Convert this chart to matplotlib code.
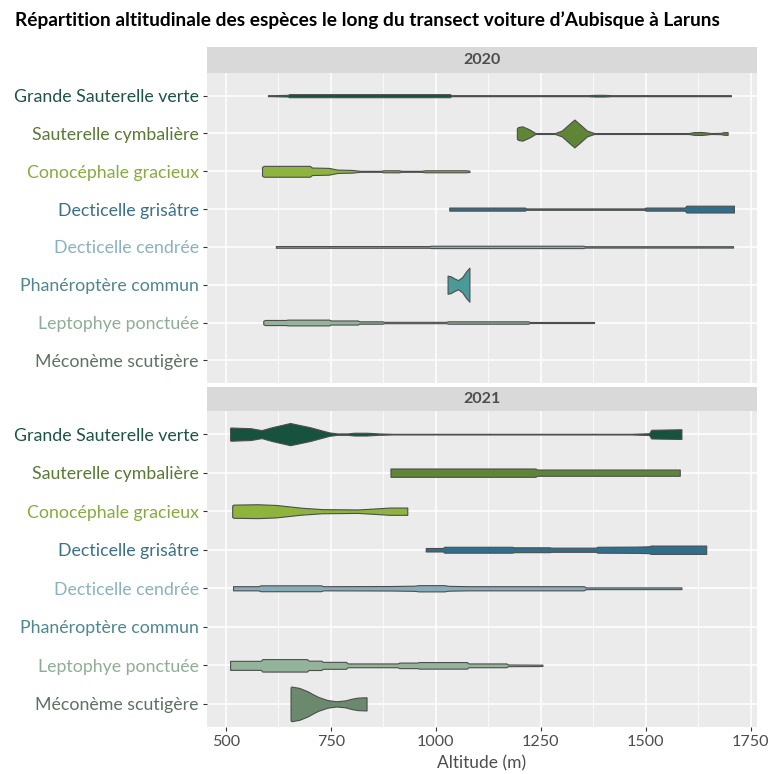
import numpy as np
import matplotlib
matplotlib.use("Agg")
import matplotlib.pyplot as plt

plt.rcParams['font.family'] = ['Lato', 'DejaVu Sans']

# species (top to bottom) and their colours
species = ["Grande Sauterelle verte", "Sauterelle cymbalière", "Conocéphale gracieux",
           "Decticelle grisâtre", "Decticelle cendrée", "Phanéroptère commun",
           "Leptophye ponctuée", "Méconème scutigère"]
label_colors = ["#1d5445", "#587a35", "#86ab3e", "#3a7088",
                "#8ab2be", "#4e8790", "#8fae96", "#5d7263"]
fill_colors = ["#17523f", "#5f8636", "#8db43d", "#2f6f8b",
               "#87adbb", "#4a9a9a", "#93b39a", "#6b8a6d"]

title = "Répartition altitudinale des espèces le long du transect voiture d\u2019Aubisque à Laruns"
years = ["2020", "2021"]
x_ticks = [500, 750, 1000, 1250, 1500, 1750]

# violin profiles: altitude (m) and relative density (1 = widest violin of the panel)
# --- 2020 ---
grande_2020_alt = [600, 612, 648, 650, 1034, 1036, 1360, 1380, 1400, 1420, 1703]
grande_2020_w = [0.03, 0.03, 0.05, 0.09, 0.09, 0.03, 0.03, 0.05, 0.05, 0.03, 0.03]
cymb_2020_alt = [1193, 1196, 1206, 1222, 1237, 1284, 1300, 1315, 1330, 1345, 1360,
                 1377, 1602, 1615, 1631, 1645, 1655, 1678, 1687, 1695]
cymb_2020_w = [0.30, 0.38, 0.42, 0.25, 0.03, 0.03, 0.17, 0.5, 0.82, 0.5, 0.17,
               0.03, 0.03, 0.08, 0.09, 0.06, 0.03, 0.04, 0.08, 0.08]
cono_2020_alt = [586, 590, 700, 705, 745, 765, 800, 820, 870, 875, 912, 918,
                 965, 975, 1070, 1080]
cono_2020_w = [0.25, 0.32, 0.32, 0.22, 0.2, 0.1, 0.08, 0.03, 0.03, 0.06, 0.06, 0.03,
               0.03, 0.06, 0.06, 0.04]
grisatre_2020_alt = [1032, 1212, 1215, 1496, 1500, 1593, 1597, 1710]
grisatre_2020_w = [0.09, 0.09, 0.04, 0.04, 0.09, 0.09, 0.2, 0.2]
cendree_2020_alt = [619, 983, 990, 1350, 1356, 1708]
cendree_2020_w = [0.05, 0.05, 0.07, 0.07, 0.04, 0.04]
phane_2020_alt = [1028, 1035, 1045, 1053, 1063, 1072, 1080]
phane_2020_w = [0.53, 0.5, 0.36, 0.27, 0.45, 0.78, 1.0]
lepto_2020_alt = [589, 593, 644, 646, 746, 750, 814, 818, 873, 877, 1025, 1029,
                  1220, 1224, 1377]
lepto_2020_w = [0.1, 0.15, 0.15, 0.17, 0.17, 0.12, 0.12, 0.07, 0.07, 0.04, 0.04, 0.07,
                0.07, 0.03, 0.03]

# --- 2021 ---
grande_2021_alt = [510, 512, 559, 585, 610, 653, 700, 746, 765, 790, 805, 835, 864,
                   898, 1466, 1508, 1513, 1585]
grande_2021_w = [0.36, 0.38, 0.34, 0.23, 0.4, 0.64, 0.4, 0.1, 0.04, 0.04, 0.08, 0.08,
                 0.04, 0.02, 0.02, 0.05, 0.25, 0.28]
cymb_2021_alt = [892, 1237, 1241, 1581]
cymb_2021_w = [0.24, 0.24, 0.18, 0.18]
cono_2021_alt = [515, 518, 576, 619, 680, 729, 814, 850, 890, 932]
cono_2021_w = [0.33, 0.38, 0.40, 0.36, 0.2, 0.12, 0.1, 0.15, 0.21, 0.21]
grisatre_2021_alt = [976, 1017, 1020, 1182, 1186, 1271, 1275, 1381, 1385, 1479,
                     1508, 1512, 1644]
grisatre_2021_w = [0.1, 0.1, 0.17, 0.17, 0.14, 0.14, 0.12, 0.12, 0.17, 0.18,
                   0.2, 0.24, 0.24]
cendree_2021_alt = [517, 577, 583, 726, 732, 894, 949, 960, 1020, 1030, 1080,
                    1352, 1358, 1585]
cendree_2021_w = [0.12, 0.12, 0.17, 0.17, 0.12, 0.13, 0.15, 0.18, 0.18, 0.14, 0.12,
                  0.12, 0.05, 0.05]
lepto_2021_alt = [510, 583, 587, 693, 697, 727, 731, 786, 790, 909, 913, 956, 960,
                  1074, 1078, 1168, 1172, 1254]
lepto_2021_w = [0.26, 0.26, 0.36, 0.36, 0.27, 0.27, 0.2, 0.2, 0.11, 0.11, 0.16, 0.16,
                0.19, 0.19, 0.11, 0.11, 0.05, 0.04]
meco_2021_alt = [654, 656, 675, 695, 710, 720, 742, 763, 784, 800, 814, 835]
meco_2021_w = [0.95, 1.0, 0.92, 0.72, 0.52, 0.4, 0.22, 0.15, 0.2, 0.3, 0.36, 0.38]

profiles = {
    "2020": [(grande_2020_alt, grande_2020_w), (cymb_2020_alt, cymb_2020_w),
             (cono_2020_alt, cono_2020_w), (grisatre_2020_alt, grisatre_2020_w),
             (cendree_2020_alt, cendree_2020_w), (phane_2020_alt, phane_2020_w),
             (lepto_2020_alt, lepto_2020_w), None],
    "2021": [(grande_2021_alt, grande_2021_w), (cymb_2021_alt, cymb_2021_w),
             (cono_2021_alt, cono_2021_w), (grisatre_2021_alt, grisatre_2021_w),
             (cendree_2021_alt, cendree_2021_w), None,
             (lepto_2021_alt, lepto_2021_w), (meco_2021_alt, meco_2021_w)],
}

W, H = 771, 774
fig = plt.figure(figsize=(W / 100, H / 100), dpi=100)

# panel and strip boxes in pixels (top, bottom)
panel_px = [(73, 383), (411, 727)]
strip_px = [(47, 73), (387, 411)]
left_px, right_px = 207, 757

half = 0.45  # max half width of a violin (ggplot width 0.9)

for k, year in enumerate(years):
    top, bot = panel_px[k]
    ax = fig.add_axes([left_px / W, 1 - bot / H, (right_px - left_px) / W, (bot - top) / H])
    ax.set_facecolor("#EBEBEB")
    for s in ax.spines.values():
        s.set_visible(False)

    for i, prof in enumerate(profiles[year]):
        if prof is None:
            continue
        alt = np.array(prof[0], dtype=float)
        w = np.array(prof[1]) * half
        ax.fill_between(alt, i - w, i + w, facecolor=fill_colors[i],
                        edgecolor="#4d4d4d", linewidth=0.8, zorder=3)

    ax.set_xlim(455, 1765)
    ax.set_ylim(len(species) - 0.4, -0.6)
    ax.set_xticks(x_ticks)
    ax.set_xticks([625, 875, 1125, 1375, 1625], minor=True)
    ax.set_yticks(range(len(species)))
    ax.grid(which="major", color="white", linewidth=1.1)
    ax.grid(which="minor", axis="x", color="white", linewidth=0.5)
    ax.set_axisbelow(True)
    ax.tick_params(which="minor", length=0)
    ax.tick_params(axis="y", length=3, color="#333333", pad=3)
    ax.set_yticklabels(species, fontsize=12.8)
    for lab, c in zip(ax.get_yticklabels(), label_colors):
        lab.set_color(c)

    if k == 0:
        ax.tick_params(axis="x", length=0, labelbottom=False)
    else:
        ax.tick_params(axis="x", length=3, color="#333333", labelsize=11.6,
                       labelcolor="#4d4d4d", pad=3)
        ax.set_xlabel("Altitude (m)", fontsize=12.5, color="#4d4d4d", labelpad=4)

    # facet strip
    stop, sbot = strip_px[k]
    sax = fig.add_axes([left_px / W, 1 - sbot / H, (right_px - left_px) / W, (sbot - stop) / H])
    sax.set_facecolor("#D9D9D9")
    sax.set_xticks([])
    sax.set_yticks([])
    for s in sax.spines.values():
        s.set_visible(False)
    sax.text(0.5, 0.5, year, ha="center", va="center", fontsize=11.5,
             fontweight="bold", color="#4d4d4d", transform=sax.transAxes)

fig.text(367 / W, 1 - 20 / H, title, ha="center", va="center", fontsize=13.8,
         fontweight="bold", color="black")

fig.savefig("out.png", dpi=100)
